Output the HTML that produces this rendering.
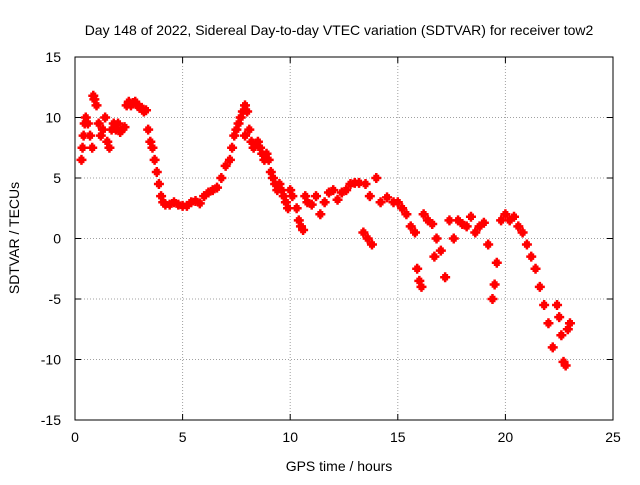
<!DOCTYPE html>
<html><head><meta charset="utf-8"><style>
body{margin:0;background:#fff;font-family:"Liberation Sans",sans-serif;}
svg text{font-family:"Liberation Sans",sans-serif;font-size:14px;fill:#000;}
</style></head><body>
<svg id="chart" width="640" height="480" viewBox="0 0 640 480" xmlns="http://www.w3.org/2000/svg">
<rect x="0" y="0" width="640" height="480" fill="#fff"/>
<text x="339" y="35" text-anchor="middle">Day 148 of 2022, Sidereal Day-to-day VTEC variation (SDTVAR) for receiver tow2</text>
<text x="339" y="471" text-anchor="middle">GPS time / hours</text>
<text transform="translate(19,238) rotate(-90)" text-anchor="middle">SDTVAR / TECUs</text>
<g id="grid"></g><g id="ticks"></g><g id="marks"></g>
<rect x="75" y="57" width="538" height="363" fill="none" stroke="#000" stroke-width="1"/>
</svg>
<script>
const xTicks=[0,5,10,15,20,25];
const yTicks=[-15,-10,-5,0,5,10,15];
const times=[0.3,0.35,0.4,0.45,0.5,0.6,0.7,0.8,0.85,0.9,1.0,1.1,1.2,1.3,1.4,1.5,1.6,1.7,1.8,1.9,2.0,2.1,2.2,2.3,2.4,2.5,2.6,2.7,2.8,2.9,3.0,3.1,3.2,3.3,3.4,3.5,3.6,3.7,3.8,3.9,4.0,4.1,4.2,4.4,4.6,4.8,5.0,5.2,5.4,5.6,5.8,6.0,6.2,6.4,6.6,6.8,7.0,7.2,7.3,7.4,7.5,7.6,7.7,7.8,7.9,8.0,7.9,8.1,8.2,8.3,8.4,8.5,8.6,8.7,8.8,8.9,9.0,9.1,9.2,9.3,9.4,9.5,9.6,9.7,9.8,9.9,10.0,10.1,10.3,10.4,10.5,10.6,10.7,10.8,11.0,11.2,11.4,11.6,11.8,12.0,12.2,12.4,12.6,12.8,13.0,13.2,13.4,13.6,13.8,13.5,13.7,14.0,14.2,14.5,14.8,15.0,15.2,15.4,15.6,15.8,15.9,16.0,16.1,16.2,16.4,16.6,16.8,17.0,16.7,17.2,17.4,17.6,17.8,18.0,18.2,18.4,18.6,18.8,19.0,19.2,19.4,19.5,19.6,19.8,20.0,20.2,20.4,20.6,20.8,21.0,21.2,21.4,21.6,21.8,22.0,22.2,22.4,22.5,22.6,22.7,22.8,22.9,23.0];
const values=[6.5,7.5,8.5,9.5,10,9.5,8.5,7.5,11.8,11.5,11,9.5,8.5,9,10,8,7.5,9,9.5,9,9.5,8.8,9,9.2,11,11.3,11,11.2,11.3,11,10.8,10.8,10.5,10.6,9,8,7.5,6.5,5.5,4.5,3.5,3,2.8,2.8,3,2.8,2.7,2.7,3,3.1,2.9,3.5,3.8,4,4.2,5,6,6.5,7.5,8.5,9,9.5,10,10.5,11,10.5,8.5,9,8,7.5,7.8,8,7.5,7,6.5,7,6.5,5.5,5,4.5,4,4.5,4,3.5,3,2.5,4,3.5,2.5,1.5,1,0.7,3.5,3,2.8,3.5,2,3,3.8,4,3.2,3.8,4,4.5,4.6,4.6,0.5,0,-0.5,4.5,3.5,5,3,3.4,3,3,2.5,2,1,0.5,-2.5,-3.5,-4,2,1.5,1.2,0,-1,-1.5,-3.2,1.5,0,1.5,1.2,1,1.8,0.5,1,1.3,-0.5,-5,-3.8,-2,1.5,2,1.5,1.8,1,0.5,-0.5,-1.5,-2.5,-4,-5.5,-7,-9,-5.5,-6.5,-8,-10.2,-10.5,-7.5,-7];
const X=t=>75+t*(538/25), Y=v=>238.5-v*(363/30);
const ns="http://www.w3.org/2000/svg";
const grid=document.getElementById('grid'),ticks=document.getElementById('ticks'),marks=document.getElementById('marks');
function mk(tag,a,p){const e=document.createElementNS(ns,tag);for(const k in a)e.setAttribute(k,a[k]);p.appendChild(e);return e;}
xTicks.forEach(t=>{const x=X(t);
 if(t>0&&t<25){const g=mk('line',{x1:x,x2:x,y1:57,y2:420,stroke:'#a0a0a0','stroke-dasharray':'1,2'},grid);
 
 }
 mk('line',{x1:x,x2:x,y1:420,y2:414,stroke:'#000'},ticks);mk('line',{x1:x,x2:x,y1:57,y2:63,stroke:'#000'},ticks);
 const l=mk('text',{x:x,y:442,'text-anchor':'middle'},ticks);l.textContent=t;
 
 });
yTicks.forEach(v=>{const y=Y(v);
 if(v>-15&&v<15){const g=mk('line',{x1:75,x2:613,y1:y,y2:y,stroke:'#a0a0a0','stroke-dasharray':'1,2'},grid);
 
 }
 mk('line',{x1:75,x2:81,y1:y,y2:y,stroke:'#000'},ticks);mk('line',{x1:613,x2:607,y1:y,y2:y,stroke:'#000'},ticks);
 const l=mk('text',{x:61,y:y+5,'text-anchor':'end'},ticks);l.textContent=v;
 
 });
times.forEach((t,i)=>{const x=X(t),y=Y(values[i]);
 const p=mk('path',{d:`M${x-5} ${y}H${x+5}M${x} ${y-5}V${y+5}M${x-3} ${y-2}H${x+3}M${x-3} ${y+2}H${x+3}`,stroke:'#f00','stroke-width':2.5,fill:'none'},marks);
 
 });
</script>
</body></html>
